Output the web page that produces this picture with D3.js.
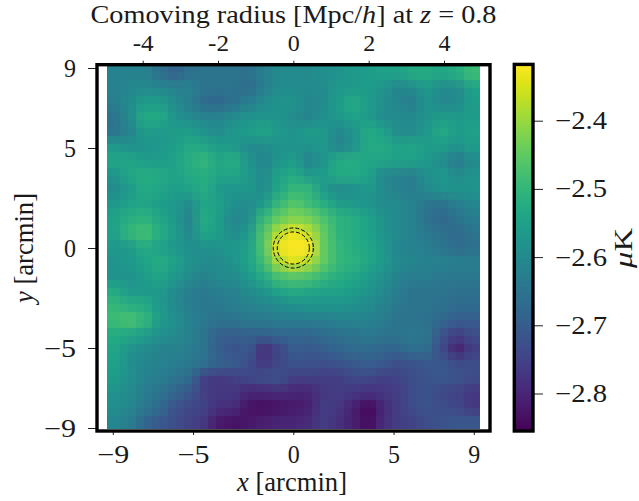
<!DOCTYPE html>
<html><head><meta charset="utf-8">
<script src="https://cdn.jsdelivr.net/npm/d3@7"></script>
<style>
html,body{margin:0;padding:0;background:#fff}
svg{display:block}
text{font-family:"Liberation Serif",serif;fill:#1a1a1a}
</style></head><body>
<script>
const xTicks=[-9,-5,0,5,9], yTicks=[-9,-5,0,5,9], topTicks=[-4,-2,0,2,4], cbTicks=[-2.8,-2.7,-2.6,-2.5,-2.4];
const apertureRadii=[0.8,1.0];
const valueRange=[-2.855,-2.319];
const titleText="Comoving radius [Mpc/";
// temperature map, rows top to bottom, columns left to right
const heat=[
[-2.62,-2.62,-2.62,-2.66,-2.69,-2.66,-2.65,-2.65,-2.65,-2.66,-2.63,-2.60,-2.60,-2.60,-2.59,-2.58,-2.57,-2.56,-2.55,-2.55,-2.53,-2.53,-2.54,-2.52,-2.49],
[-2.62,-2.61,-2.60,-2.61,-2.62,-2.62,-2.65,-2.65,-2.65,-2.67,-2.63,-2.60,-2.60,-2.60,-2.60,-2.57,-2.57,-2.56,-2.58,-2.62,-2.60,-2.57,-2.60,-2.60,-2.55],
[-2.63,-2.60,-2.56,-2.56,-2.60,-2.63,-2.67,-2.68,-2.66,-2.63,-2.60,-2.58,-2.58,-2.61,-2.60,-2.56,-2.53,-2.56,-2.59,-2.61,-2.63,-2.58,-2.61,-2.60,-2.56],
[-2.65,-2.60,-2.53,-2.53,-2.58,-2.60,-2.62,-2.62,-2.60,-2.58,-2.58,-2.58,-2.60,-2.62,-2.59,-2.57,-2.55,-2.57,-2.60,-2.60,-2.60,-2.58,-2.56,-2.57,-2.56],
[-2.65,-2.62,-2.56,-2.57,-2.56,-2.56,-2.58,-2.60,-2.57,-2.56,-2.54,-2.57,-2.58,-2.56,-2.57,-2.61,-2.58,-2.53,-2.55,-2.60,-2.60,-2.57,-2.53,-2.56,-2.55],
[-2.57,-2.59,-2.58,-2.57,-2.56,-2.53,-2.54,-2.56,-2.57,-2.60,-2.60,-2.58,-2.58,-2.58,-2.57,-2.62,-2.59,-2.53,-2.53,-2.55,-2.54,-2.56,-2.56,-2.58,-2.56],
[-2.54,-2.54,-2.56,-2.56,-2.55,-2.52,-2.50,-2.54,-2.52,-2.58,-2.62,-2.58,-2.56,-2.62,-2.58,-2.53,-2.52,-2.54,-2.54,-2.55,-2.55,-2.57,-2.60,-2.64,-2.60],
[-2.58,-2.54,-2.52,-2.53,-2.55,-2.53,-2.52,-2.54,-2.54,-2.57,-2.60,-2.55,-2.53,-2.57,-2.56,-2.53,-2.53,-2.55,-2.61,-2.62,-2.63,-2.59,-2.57,-2.60,-2.58],
[-2.60,-2.57,-2.53,-2.54,-2.56,-2.55,-2.52,-2.57,-2.58,-2.57,-2.60,-2.54,-2.50,-2.50,-2.57,-2.60,-2.59,-2.57,-2.60,-2.62,-2.63,-2.60,-2.58,-2.58,-2.58],
[-2.57,-2.55,-2.54,-2.56,-2.57,-2.60,-2.54,-2.55,-2.59,-2.60,-2.57,-2.50,-2.46,-2.49,-2.52,-2.56,-2.57,-2.58,-2.60,-2.60,-2.62,-2.65,-2.66,-2.63,-2.61],
[-2.55,-2.52,-2.51,-2.54,-2.57,-2.62,-2.52,-2.56,-2.61,-2.60,-2.50,-2.45,-2.42,-2.43,-2.47,-2.51,-2.52,-2.55,-2.58,-2.60,-2.62,-2.66,-2.68,-2.65,-2.63],
[-2.55,-2.50,-2.48,-2.52,-2.56,-2.61,-2.54,-2.56,-2.60,-2.57,-2.47,-2.38,-2.33,-2.37,-2.45,-2.51,-2.52,-2.55,-2.58,-2.60,-2.62,-2.64,-2.66,-2.67,-2.65],
[-2.57,-2.57,-2.53,-2.55,-2.57,-2.59,-2.59,-2.58,-2.57,-2.55,-2.47,-2.33,-2.28,-2.32,-2.45,-2.50,-2.52,-2.54,-2.57,-2.61,-2.62,-2.63,-2.65,-2.67,-2.66],
[-2.58,-2.57,-2.55,-2.52,-2.55,-2.58,-2.60,-2.60,-2.58,-2.55,-2.49,-2.39,-2.34,-2.38,-2.45,-2.50,-2.51,-2.54,-2.57,-2.60,-2.61,-2.62,-2.62,-2.63,-2.63],
[-2.58,-2.58,-2.56,-2.54,-2.57,-2.60,-2.62,-2.60,-2.60,-2.57,-2.53,-2.48,-2.46,-2.47,-2.50,-2.52,-2.54,-2.56,-2.59,-2.62,-2.63,-2.63,-2.64,-2.64,-2.64],
[-2.53,-2.57,-2.57,-2.57,-2.60,-2.63,-2.64,-2.63,-2.62,-2.60,-2.58,-2.55,-2.53,-2.54,-2.55,-2.55,-2.56,-2.58,-2.60,-2.63,-2.65,-2.65,-2.65,-2.66,-2.66],
[-2.50,-2.52,-2.53,-2.57,-2.60,-2.63,-2.64,-2.64,-2.63,-2.62,-2.61,-2.60,-2.59,-2.58,-2.58,-2.58,-2.59,-2.60,-2.62,-2.64,-2.65,-2.65,-2.66,-2.67,-2.67],
[-2.49,-2.47,-2.50,-2.56,-2.59,-2.62,-2.64,-2.65,-2.65,-2.64,-2.64,-2.63,-2.63,-2.63,-2.63,-2.62,-2.62,-2.62,-2.63,-2.65,-2.65,-2.66,-2.68,-2.70,-2.70],
[-2.53,-2.54,-2.56,-2.59,-2.60,-2.62,-2.65,-2.69,-2.70,-2.69,-2.69,-2.68,-2.68,-2.68,-2.67,-2.66,-2.65,-2.64,-2.65,-2.65,-2.64,-2.65,-2.72,-2.76,-2.73],
[-2.54,-2.58,-2.60,-2.62,-2.62,-2.63,-2.65,-2.70,-2.72,-2.71,-2.79,-2.75,-2.70,-2.71,-2.70,-2.68,-2.67,-2.67,-2.68,-2.68,-2.66,-2.67,-2.74,-2.81,-2.76],
[-2.55,-2.59,-2.61,-2.62,-2.63,-2.64,-2.66,-2.69,-2.70,-2.73,-2.77,-2.74,-2.72,-2.72,-2.73,-2.72,-2.71,-2.70,-2.71,-2.73,-2.72,-2.71,-2.71,-2.73,-2.73],
[-2.56,-2.59,-2.62,-2.63,-2.65,-2.67,-2.76,-2.77,-2.76,-2.74,-2.72,-2.72,-2.76,-2.76,-2.76,-2.76,-2.74,-2.74,-2.76,-2.75,-2.73,-2.72,-2.71,-2.72,-2.73],
[-2.58,-2.60,-2.63,-2.65,-2.68,-2.71,-2.76,-2.77,-2.77,-2.80,-2.80,-2.79,-2.80,-2.80,-2.77,-2.76,-2.77,-2.78,-2.77,-2.76,-2.73,-2.72,-2.74,-2.75,-2.77],
[-2.59,-2.61,-2.64,-2.67,-2.72,-2.74,-2.75,-2.78,-2.79,-2.83,-2.84,-2.83,-2.82,-2.81,-2.76,-2.77,-2.81,-2.85,-2.80,-2.76,-2.73,-2.72,-2.73,-2.74,-2.77],
[-2.61,-2.63,-2.68,-2.71,-2.73,-2.75,-2.77,-2.82,-2.83,-2.82,-2.81,-2.80,-2.80,-2.79,-2.76,-2.78,-2.81,-2.84,-2.79,-2.76,-2.75,-2.73,-2.72,-2.71,-2.71]
];

const W=639,H=501;
const box={l:97,r:490,t:64.7,b:431};
const img={l:107,r:480,t:66,b:429};
const cb={l:514.3,r:533,t:64.4,b:431};
const x=d3.scaleLinear().domain([-9,9]).range([112.8,473.8]);
const y=d3.scaleLinear().domain([-9,9]).range([428,68]);
const xTop=d3.scaleLinear().domain([-4,4]).range([142.7,444]);
const cy=d3.scaleLinear().domain([-2.4,-2.8]).range([120.7,393.5]);
const color=d3.scaleSequential(d3.interpolateViridis).domain(valueRange);
const svg=d3.select("body").append("svg").attr("width",W).attr("height",H);
const defs=svg.append("defs");
defs.append("clipPath").attr("id","imgclip").append("rect")
 .attr("x",img.l).attr("y",img.t).attr("width",img.r-img.l).attr("height",img.b-img.t);
const region=s=>s.attr("filterUnits","userSpaceOnUse").attr("x",40).attr("y",0).attr("width",520).attr("height",500)
 .attr("color-interpolation-filters","sRGB");
region(defs.append("filter").attr("id","soft")).append("feGaussianBlur").attr("stdDeviation",4.8);
// mosaic: sample one dot per block and spread it, like the blocky resampled image
const mo=region(defs.append("filter").attr("id","mosaic"));
mo.append("feFlood").attr("x",43).attr("y",3).attr("width",2).attr("height",2).attr("flood-color","#000");
mo.append("feComposite").attr("x",40).attr("y",0).attr("width",8).attr("height",8);
mo.append("feTile").attr("result","dots");
mo.append("feComposite").attr("in","SourceGraphic").attr("in2","dots").attr("operator","in");
mo.append("feMorphology").attr("operator","dilate").attr("radius",3);
mo.append("feGaussianBlur").attr("stdDeviation",0.7);

const col=d3.scaleBand().domain(d3.range(heat[0].length)).range([img.l,img.r]);
const row=d3.scaleBand().domain(d3.range(heat.length)).range([img.t,img.b]);
const pad=40;
const cells=heat.flatMap((r,j)=>r.map((v,i)=>({i,j,v})));
const nC=heat[0].length,nR=heat.length;
svg.append("g").attr("clip-path","url(#imgclip)")
 .append("g").attr("filter","url(#mosaic)")
 .append("g").attr("filter","url(#soft)")
 .selectAll("rect").data(cells).join("rect")
 .attr("shape-rendering","crispEdges")
 .attr("x",d=>col(d.i)-(d.i==0?pad:0))
 .attr("y",d=>row(d.j)-(d.j==0?pad:0))
 .attr("width",d=>col.bandwidth()+0.6+(d.i==0?pad:0)+(d.i==nC-1?pad:0))
 .attr("height",d=>row.bandwidth()+0.6+(d.j==0?pad:0)+(d.j==nR-1?pad:0))
 .attr("fill",d=>color(d.v));

// aperture circles
svg.selectAll("circle.ap").data(apertureRadii).join("circle").attr("class","ap")
 .attr("cx",x(0)).attr("cy",y(0)).attr("r",d=>x(d)-x(0))
 .attr("fill","none").attr("stroke","#000").attr("stroke-width",1).attr("stroke-dasharray","4 2");

// axis helpers
function style(g,fs){
 g.select(".domain").remove();
 g.selectAll(".tick line").attr("stroke","#222").attr("stroke-width",1);
 g.selectAll(".tick text").attr("font-size",fs).style("font-family",'"Liberation Serif",serif').attr("fill","#1a1a1a");
}
const mfmt=d=>(d<0?"\u2212":"")+Math.abs(d);
const mfmt1=d=>(d<0?"\u2212":"")+d3.format(".1f")(Math.abs(d));
function widen(g,fn){g.selectAll(".tick text").attr("textLength",fn).attr("lengthAdjust","spacingAndGlyphs");}
const gx=svg.append("g").attr("transform",`translate(0,${box.b})`)
 .call(d3.axisBottom(x).tickValues(xTicks).tickFormat(mfmt).tickSize(4).tickPadding(10));
style(gx,25); widen(gx,d=>d<0?32:12);
const gy=svg.append("g").attr("transform",`translate(${box.l},0)`)
 .call(d3.axisLeft(y).tickValues(yTicks).tickFormat(mfmt).tickSize(9).tickPadding(12));
style(gy,25); widen(gy,d=>d<0?32:12);
const gt=svg.append("g").attr("transform",`translate(0,${box.t})`)
 .call(d3.axisTop(xTop).tickValues(topTicks).tickFormat(d=>String(d)).tickSize(4).tickPadding(10));
style(gt,24); widen(gt,d=>d<0?21:12);

// frame
svg.append("rect").attr("x",box.l).attr("y",box.t).attr("width",box.r-box.l).attr("height",box.b-box.t)
 .attr("fill","none").attr("stroke","#000").attr("stroke-width",3.4);

// colour bar
const steps=d3.range(0,256);
const cbv=d3.scaleLinear().domain([0,255]).range(valueRange);
const cbY=d3.scaleLinear().domain(valueRange).range([cb.b,cb.t]);
svg.append("g").selectAll("rect").data(steps).join("rect")
 .attr("shape-rendering","crispEdges")
 .attr("x",cb.l).attr("width",cb.r-cb.l)
 .attr("y",d=>Math.max(cb.t,cbY(cbv(d))-2)).attr("height",d=>Math.min(3,cb.b-Math.max(cb.t,cbY(cbv(d))-2)))
 .attr("fill",d=>color(cbv(d)));
const gc=svg.append("g").attr("transform",`translate(${cb.r},0)`)
 .call(d3.axisRight(cy).tickValues(cbTicks).tickFormat(mfmt1).tickSize(10).tickPadding(12));
style(gc,25); widen(gc,()=>52);
svg.append("rect").attr("x",cb.l).attr("y",cb.t).attr("width",cb.r-cb.l).attr("height",cb.b-cb.t)
 .attr("fill","none").attr("stroke","#000").attr("stroke-width",3.4);

// titles
const t=svg.append("text").attr("x",90.5).attr("y",23).attr("font-size",25).attr("textLength",406).attr("lengthAdjust","spacingAndGlyphs");
t.append("tspan").text(titleText);
t.append("tspan").attr("font-style","italic").text("h");
t.append("tspan").text("] at ");
t.append("tspan").attr("font-style","italic").text("z");
t.append("tspan").text(" = 0.8");
const xl=svg.append("text").attr("x",237).attr("y",491).attr("font-size",27).attr("textLength",110).attr("lengthAdjust","spacingAndGlyphs");
xl.append("tspan").attr("font-style","italic").text("x");
xl.append("tspan").text(" [arcmin]");
const yl=svg.append("text").attr("transform","translate(33,303) rotate(-90)").attr("font-size",27).attr("textLength",110).attr("lengthAdjust","spacingAndGlyphs");
yl.append("tspan").attr("font-style","italic").text("y");
yl.append("tspan").text(" [arcmin]");
const cl=svg.append("text").attr("transform","translate(632,268) rotate(-90)").attr("font-size",26).attr("textLength",40).attr("lengthAdjust","spacingAndGlyphs");
cl.append("tspan").attr("font-style","italic").text("\u03bc");
cl.append("tspan").text("K");
</script>
</body></html>
